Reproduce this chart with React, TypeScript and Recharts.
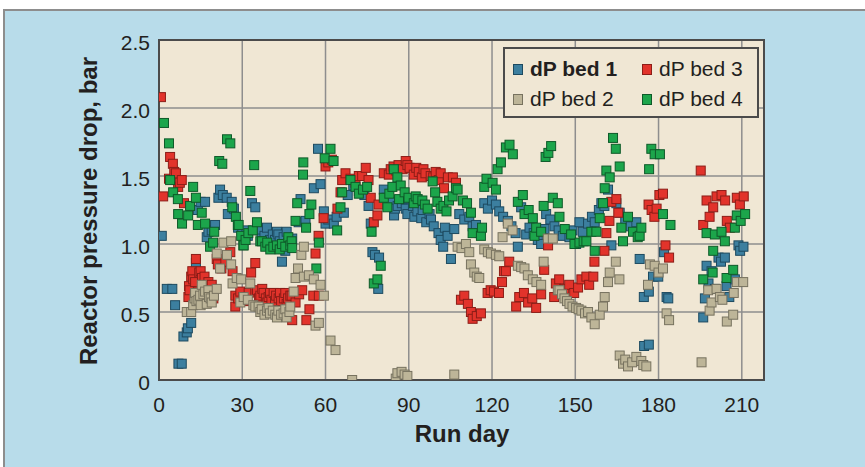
import {
  CartesianGrid,
  ReferenceArea,
  Scatter,
  ScatterChart,
  XAxis,
  YAxis,
} from "recharts";

// [run day, pressure drop in bar]
const bed1: [number, number][] = [
  [1, 1.06], [2.8, 0.67], [4.8, 0.67], [5.8, 0.55], [7, 0.12], [8.2, 0.12], [8.8, 0.32], [10, 0.35],
  [10.4, 0.38], [11.6, 0.42], [13.3, 0.86], [14, 1.25], [15, 1.31], [16.6, 1.31], [17.2, 1.05], [17.8, 1.09],
  [19, 1.1], [20.2, 1.14], [21.4, 1.34], [22, 1.4], [23, 1.36], [24.4, 1.34], [24.8, 1.22], [26.2, 1.31],
  [27, 1.26], [28.5, 1.12], [30, 1.08], [31.5, 1.1], [32, 1.06], [33.5, 1.3], [34.7, 1.27], [35.3, 1.12],
  [36.5, 1.1], [37, 1.04], [38, 1.06], [38.9, 1.12], [39.5, 1.0], [40, 1.03], [41, 1.07], [41.8, 1.03],
  [42.5, 1.09], [43, 1.07], [43.5, 1.02], [44.3, 0.87], [44.9, 1.05], [45.5, 0.95], [46, 1.09], [46.5, 1.01],
  [47.5, 0.99], [48, 1.04], [50.3, 1.16], [51, 1.33], [52.8, 1.17], [55.8, 1.41], [57.3, 1.7], [58.2, 1.44],
  [59.4, 1.24], [60, 1.15], [61, 1.18], [63, 1.15], [64, 1.2], [66.6, 1.23], [68, 1.36], [70, 1.43],
  [72, 1.39], [74, 1.36], [75.5, 1.28], [76.3, 1.15], [76.9, 0.94], [77.8, 0.92], [79.3, 0.9], [79, 0.67],
  [81, 1.4], [82, 1.34], [83.5, 1.31], [84.7, 1.21], [85, 1.26], [86, 1.28], [87.5, 1.3], [88.9, 1.26],
  [89.5, 1.22], [90, 1.33], [91.5, 1.28], [92, 1.2], [93.1, 1.24], [94.5, 1.19], [95, 1.25], [96.3, 1.16],
  [97.5, 1.22], [98, 1.18], [99, 1.13], [100.7, 1.08], [101.5, 1.03], [102.4, 0.98], [103, 1.12], [104, 1.06],
  [105.2, 0.89], [106.4, 1.11], [108.2, 1.22], [110, 1.18], [111.8, 1.2], [113, 1.13], [114.2, 1.14], [115.5, 1.08],
  [117.2, 1.3], [118.5, 1.26], [120, 1.32], [121.4, 1.29], [122.6, 1.24], [124, 1.2], [125.7, 1.17], [127, 1.13],
  [128.5, 1.08], [129.3, 0.98], [130.5, 1.27], [132.3, 1.07], [133.5, 1.12], [135, 1.08], [136.5, 1.03], [137.7, 1.0],
  [138.9, 1.11], [139.5, 1.22], [141, 1.18], [142.5, 1.13], [144, 1.1], [145.5, 1.06], [147.9, 1.05], [149, 1.1],
  [150.3, 1.0], [151.5, 1.16], [152.7, 1.09], [154.6, 1.15], [156, 1.2], [157, 1.16], [158.5, 1.25], [159.4, 1.3],
  [160.5, 1.28], [161.8, 1.4], [163, 0.99], [164.8, 1.3], [166, 1.23], [168, 1.18], [170, 1.13], [172, 1.16],
  [173.2, 0.89], [174.7, 0.61], [174.8, 0.25], [176.5, 0.26], [176.5, 0.65], [178, 0.76], [179.9, 0.76], [182, 0.94],
  [182.9, 0.61], [183.5, 0.6], [196.1, 0.46], [196.7, 0.6], [197.3, 0.84], [198, 0.71], [199.1, 0.8], [200.3, 0.67],
  [201.6, 0.9], [202.5, 0.87], [203.9, 0.9], [204.5, 0.69], [205.5, 0.61], [207.5, 0.74], [208.8, 0.99], [209.4, 0.95],
  [210.6, 0.98],
];

const bed2: [number, number][] = [
  [10, 0.5], [11.6, 0.5], [12.3, 0.55], [12.8, 0.6], [13, 0.64], [13.5, 0.58], [14.2, 0.59], [14.8, 0.62],
  [15, 0.55], [15.4, 0.7], [16, 0.63], [16.6, 0.65], [17.2, 0.56], [17.8, 0.66], [18, 0.61], [18.6, 0.6],
  [19, 0.57], [19.8, 0.62], [20.8, 0.67], [20.8, 0.93], [22, 0.82], [23.2, 1.01], [24.5, 0.92], [26, 1.02],
  [26, 0.85], [26.5, 0.71], [28, 0.75], [29.3, 0.57], [29.6, 0.74], [30.5, 0.61], [32, 0.59], [32.9, 0.71],
  [34, 0.55], [34.7, 0.54], [35.9, 0.54], [36.5, 0.5], [37, 0.52], [38, 0.48], [38.9, 0.51], [39.5, 0.53],
  [40, 0.49], [41, 0.51], [41.9, 0.48], [42.5, 0.46], [43, 0.51], [44, 0.48], [44.9, 0.49], [45.5, 0.52],
  [46, 0.46], [47, 0.5], [47.3, 0.54], [48.5, 0.65], [49.2, 0.75], [50.1, 0.82], [51.3, 0.92], [52.2, 0.98],
  [52.2, 0.76], [54, 0.77], [55.8, 0.74], [56.4, 0.4], [57.6, 0.42], [58.2, 0.7], [59.4, 0.62], [61.8, 0.29],
  [63.6, 0.22], [69.6, 0], [85.3, 0.01], [85.9, 0.05], [87.4, 0.06], [88.5, 0.04], [89.5, 0.03], [106.4, 0.04],
  [107.6, 0.98], [109, 0.97], [110.6, 1.0], [111.8, 0.94], [112.4, 0.85], [113.6, 0.79], [114.5, 0.76], [115.4, 0.75],
  [117.2, 0.96], [118.5, 0.94], [119.6, 0.93], [121.4, 0.92], [122.6, 0.91], [123.8, 1.05], [125.7, 1.15], [127.4, 1.1],
  [129.3, 0.84], [130.5, 0.83], [131.7, 0.82], [132.9, 0.77], [134.7, 0.74], [136, 0.72], [137.7, 0.7], [138.6, 0.87],
  [140.1, 1.04], [141.9, 1.04], [143.7, 0.66], [144.3, 0.66], [145.2, 0.63], [146.1, 0.6], [147, 0.58], [147.9, 0.56],
  [149, 0.54], [150.3, 0.53], [151.2, 0.52], [152.2, 0.51], [153.5, 0.49], [154.6, 0.5], [155.8, 0.46], [157, 0.41],
  [158.8, 0.48], [160, 0.54], [160.6, 0.61], [161.8, 0.72], [162.4, 0.79], [164.6, 0.87], [165.9, 0.74], [166, 0.18],
  [167.2, 0.12], [168, 0.15], [169, 0.1], [170.5, 0.13], [172, 0.17], [173.8, 0.14], [174.5, 0.11], [175.6, 0.1],
  [176.2, 0.7], [176.9, 0.85], [178.6, 0.84], [180, 0.79], [181.6, 0.82], [182.9, 0.49], [183.8, 0.44], [195.5, 0.13],
  [197.9, 0.66], [198.4, 0.51], [199.1, 0.57], [200.9, 0.67], [202.1, 0.61], [203, 0.59], [204.6, 0.43], [206.9, 0.48],
  [207.1, 0.64], [208.2, 0.72], [210.5, 0.72],
];

const bed3: [number, number][] = [
  [0.7, 2.08], [1.5, 1.35], [3.6, 1.48], [4, 1.64], [5, 1.59], [5.5, 1.53], [6.1, 1.52], [6.9, 1.42],
  [7.5, 1.45], [8.2, 1.47], [9, 1.3], [10.6, 0.61], [10.8, 0.69], [11, 0.66], [11.6, 0.76], [12, 0.8],
  [12.3, 0.74], [13, 0.72], [13.3, 0.89], [14, 0.65], [14.5, 0.79], [15, 0.8], [15.5, 0.75], [16, 0.7],
  [16.4, 0.76], [17.2, 0.69], [17.8, 0.72], [18, 0.66], [18.5, 0.64], [19, 0.7], [19.6, 0.6], [20.8, 0.89],
  [21.2, 0.85], [22.5, 0.82], [23.9, 0.87], [25.7, 0.94], [26.5, 0.8], [27.5, 0.62], [27.5, 0.54], [28.5, 0.6],
  [29.3, 0.65], [30.4, 0.61], [31.5, 0.58], [32.3, 0.64], [33.2, 0.79], [34.7, 0.86], [34.7, 0.65], [35.3, 0.66],
  [36, 0.6], [36.5, 0.62], [37.2, 0.67], [37.7, 0.64], [38.5, 0.6], [39, 0.57], [39.5, 0.61], [40, 0.64],
  [40.5, 0.59], [41.3, 0.64], [41.8, 0.58], [42.2, 0.62], [43.1, 0.6], [43.6, 0.64], [44, 0.58], [45, 0.6],
  [45.5, 0.64], [46, 0.56], [46.5, 0.6], [47.3, 0.62], [47.8, 0.62], [48, 0.44], [49.2, 0.57], [50.5, 0.63],
  [51.6, 0.66], [53.1, 0.44], [54.2, 0.52], [55.6, 0.62], [56.4, 0.93], [57.5, 1.06], [57.6, 0.62], [59.3, 1.19],
  [60, 1.57], [61, 1.6], [62.3, 1.62], [64.3, 1.26], [65.4, 1.38], [66, 1.47], [67.2, 1.52], [69, 1.48],
  [70.8, 1.45], [72, 1.5], [73.2, 1.5], [74.5, 1.56], [75.5, 1.47], [76.3, 1.34], [77.4, 1.16], [78.7, 1.21],
  [79.1, 1.29], [81, 1.52], [82.8, 1.51], [83.5, 1.55], [84.5, 1.57], [85.5, 1.54], [86.3, 1.58], [87.8, 1.55],
  [88.9, 1.61], [89.5, 1.58], [90.3, 1.56], [91.8, 1.51], [92.7, 1.56], [93.6, 1.53], [94.7, 1.49], [95.3, 1.55],
  [96, 1.52], [97.9, 1.5], [98.8, 1.49], [99.7, 1.53], [100.8, 1.47], [101.5, 1.52], [102.7, 1.41], [104.1, 1.49],
  [105.9, 1.49], [107, 1.45], [108.8, 0.59], [110, 0.62], [111.3, 0.56], [112.4, 0.5], [113, 0.45], [114.5, 0.47],
  [116, 0.49], [118.4, 0.64], [119.5, 0.66], [120.7, 0.65], [122.5, 0.64], [123.6, 0.72], [124.3, 0.8], [125, 0.8],
  [126.2, 0.87], [128.7, 0.54], [129.8, 0.61], [131.5, 0.64], [133, 0.57], [134.5, 0.6], [135.9, 0.53], [137.7, 0.63],
  [138.8, 0.81], [140.2, 0.99], [142.4, 0.61], [143, 0.71], [144.2, 0.74], [146, 0.67], [147.8, 0.7], [149.6, 0.64],
  [151, 0.68], [152.2, 0.74], [154, 0.76], [155, 0.7], [156.5, 0.76], [156.9, 0.87], [160.5, 0.95], [161.2, 1.08],
  [162.3, 1.17], [163, 1.31], [164.8, 1.33], [165.5, 1.23], [176.4, 1.29], [177.5, 1.25], [178.5, 1.2], [179.3, 1.26],
  [180.3, 1.36], [181.6, 1.37], [182.5, 0.99], [183.8, 0.9], [195.2, 1.54], [196.1, 1.14], [197.3, 1.32], [198.4, 1.2],
  [199.7, 1.27], [200.9, 1.35], [202.7, 1.36], [204, 1.32], [204.6, 1.17], [205.7, 1.12], [208.2, 1.34], [209.3, 1.29],
  [210.7, 1.35],
];

const bed4: [number, number][] = [
  [1.8, 1.89], [3.6, 1.74], [4, 1.47], [5.1, 1.38], [6.8, 1.33], [6.9, 1.22], [8.3, 1.15], [10.5, 1.21],
  [11.2, 1.28], [12.3, 1.42], [13.3, 1.34], [14, 1.14], [15.4, 1.23], [16.6, 1.15], [18.4, 0.98], [19.5, 1.01],
  [19.9, 1.09], [21.7, 1.61], [22.8, 1.59], [24.5, 1.77], [25.7, 1.74], [26.4, 1.27], [27.7, 1.2], [28.4, 1.14],
  [28.7, 1.14], [29.6, 1.06], [30.4, 0.99], [30.5, 0.99], [31.2, 1.03], [32.2, 1.08], [32.9, 1.39], [33.8, 1.1],
  [34.3, 1.58], [35.3, 1.16], [36.5, 1.02], [37.1, 1.02], [38.3, 0.98], [39, 1.01], [40.1, 0.96], [41.2, 0.98],
  [42.5, 0.99], [43.5, 0.96], [44.3, 1.0], [45.5, 0.98], [46.6, 1.05], [47.3, 0.99], [47.8, 1.02], [48, 0.97],
  [49.2, 1.17], [49.8, 1.3], [51.9, 1.51], [52, 1.6], [53, 1.12], [54.2, 1.22], [54.9, 1.29], [56.7, 0.82],
  [57.6, 1.01], [59.7, 1.63], [61.8, 1.7], [62.9, 1.61], [64.2, 1.1], [65.4, 1.27], [66, 1.38], [69, 1.47],
  [70.8, 1.42], [72, 1.37], [73.5, 1.4], [75, 1.42], [76.6, 1.09], [77.4, 0.71], [78.7, 0.74], [79.9, 0.84],
  [81, 1.34], [82.3, 1.27], [83, 1.37], [84.1, 1.42], [84.6, 1.55], [85.9, 1.49], [86.5, 1.33], [87.1, 1.43],
  [88.5, 1.38], [89.9, 1.34], [91.8, 1.3], [92.5, 1.35], [93.2, 1.33], [94.9, 1.32], [95.8, 1.29], [96.8, 1.26],
  [98.6, 1.46], [99.5, 1.38], [100.3, 1.31], [101.5, 1.26], [102.5, 1.28], [103.6, 1.24], [104.5, 1.32], [105.8, 1.35],
  [107, 1.41], [107.6, 1.4], [109.5, 1.32], [111, 1.3], [112.4, 1.23], [113, 1.08], [116, 1.06], [116.4, 1.12],
  [117.2, 1.42], [118, 1.48], [120.2, 1.45], [121.4, 1.4], [122, 1.55], [123.2, 1.6], [125, 1.71], [126.3, 1.73],
  [127.5, 1.66], [129.3, 1.31], [131.1, 1.36], [131.7, 1.22], [133.2, 1.25], [134.7, 1.19], [135.3, 1.06], [135.9, 1.12],
  [137.7, 1.09], [138.6, 1.28], [139.3, 1.64], [140.3, 1.67], [141.3, 1.72], [141.9, 1.34], [143.7, 1.3], [144.3, 1.2],
  [146.2, 1.11], [148.5, 1.07], [149.7, 1.0], [151.5, 1.01], [153, 1.02], [154, 1.02], [155.8, 1.09], [157, 0.95],
  [157.6, 1.09], [158.8, 1.19], [160, 1.3], [160.6, 1.41], [161.2, 1.54], [162.4, 1.49], [163.6, 1.78], [164.6, 1.7],
  [166, 1.57], [166.6, 1.12], [167.2, 1.02], [169, 1.2], [170.8, 1.09], [172.5, 1.05], [173.2, 1.06], [173.8, 1.12],
  [176.6, 1.55], [177.4, 1.7], [178.6, 1.66], [180.5, 1.66], [181.6, 1.22], [184.3, 1.14], [196.1, 0.74], [197.3, 1.08],
  [199.5, 0.79], [199.7, 0.95], [200.3, 1.07], [202.7, 1.09], [203.9, 1.02], [204.5, 0.75], [206.9, 0.81], [207.5, 1.12],
  [208.2, 1.21], [209.6, 1.17], [211.2, 1.22],
];

const dayTicks = [0, 30, 60, 90, 120, 150, 180, 210];
const dpTicks = [0, 0.5, 1.0, 1.5, 2.0, 2.5];

const FONT = '"Liberation Sans", Arial, Helvetica, sans-serif';
const INK = "#231f20";

const toPoints = (rows: [number, number][]) => rows.map(([day, dp]) => ({ day, dp }));

const square = (fill: string, stroke: string) => (props: any) => (
  <rect
    x={props.cx - 4.5}
    y={props.cy - 4.5}
    width={9}
    height={9}
    fill={fill}
    stroke={stroke}
    strokeWidth={1}
  />
);

const XTick = ({ x, y, payload }: any) => (
  <text x={x} y={y} dy="0.71em" textAnchor="middle" fontSize={21} fontFamily={FONT} fill={INK}>
    {payload.value}
  </text>
);

const YTick = ({ x, y, payload }: any) => (
  <text x={x} y={y + 3} dy="0.355em" textAnchor="end" fontSize={21} fontFamily={FONT} fill={INK}>
    {payload.value === 0 ? "0" : payload.value.toFixed(1)}
  </text>
);

// drawing order: bed 2 ends up on top, as in the original
const series = [
  { name: "dP bed 1", data: bed1, fill: "#3c7f9f", stroke: "#1d4a60", bold: true },
  { name: "dP bed 3", data: bed3, fill: "#e2332b", stroke: "#8c1d17", bold: false },
  { name: "dP bed 4", data: bed4, fill: "#1ca54b", stroke: "#0e5a29", bold: false },
  { name: "dP bed 2", data: bed2, fill: "#bdb598", stroke: "#77725f", bold: false },
];

const legendRows = [
  [series[0], series[1]],
  [series[3], series[2]],
];

export default function App() {
  return (
    <div
      style={{
        position: "fixed",
        left: 0,
        top: 0,
        width: 865,
        height: 467,
        background: "#fff",
        overflow: "hidden",
        fontFamily: FONT,
      }}
    >
      <div
        style={{
          position: "absolute",
          left: 3,
          top: 9,
          right: 0,
          bottom: 0,
          background: "#b8dcea",
          borderLeft: "2px solid #8d8d8d",
          borderTop: "2px solid #8d8d8d",
        }}
      />
      <div style={{ position: "absolute", left: 0, top: 0 }}>
        <ScatterChart
          width={865}
          height={467}
          margin={{ top: 40, right: 101, bottom: 0, left: 0 }}
        >
          <CartesianGrid stroke="#8e8e8e" strokeWidth={1.5} fill="#f0e7d4" fillOpacity={1} />
          <XAxis
            type="number"
            dataKey="day"
            domain={[0, 218]}
            ticks={dayTicks}
            height={87}
            tickSize={0}
            tickMargin={17}
            tickLine={false}
            axisLine={false}
            tick={<XTick />}
            allowDataOverflow
          />
          <YAxis
            type="number"
            dataKey="dp"
            domain={[0, 2.5]}
            ticks={dpTicks}
            width={159}
            tickSize={0}
            tickMargin={9}
            tickLine={false}
            axisLine={false}
            tick={<YTick />}
            allowDataOverflow
          />
          <ReferenceArea
            x1={0}
            x2={218}
            y1={0}
            y2={2.5}
            fill="none"
            stroke="#4b4b4b"
            strokeWidth={2}
            fillOpacity={0}
          />
          {series.map((s) => (
            <Scatter
              key={s.name}
              name={s.name}
              data={toPoints(s.data)}
              shape={square(s.fill, s.stroke)}
              isAnimationActive={false}
            />
          ))}
        </ScatterChart>
      </div>

      {/* axis titles */}
      <div
        style={{
          position: "absolute",
          left: 89 - 200,
          top: 211 - 12,
          width: 400,
          height: 24,
          lineHeight: "24px",
          fontSize: 24,
          fontWeight: 700,
          color: INK,
          textAlign: "center",
          transform: "rotate(-90deg)",
          whiteSpace: "nowrap",
        }}
      >
        Reactor pressure drop, bar
      </div>
      <div
        style={{
          position: "absolute",
          left: 462 - 100,
          top: 434 - 12,
          width: 200,
          height: 24,
          lineHeight: "24px",
          fontSize: 24,
          fontWeight: 700,
          color: INK,
          textAlign: "center",
          whiteSpace: "nowrap",
        }}
      >
        Run day
      </div>

      {/* legend */}
      <div
        style={{
          position: "absolute",
          left: 503,
          top: 47,
          width: 252,
          height: 67,
          background: "#f0e7d4",
          border: "2px solid #4b4b4b",
        }}
      >
        {legendRows.map((row, ri) =>
          row.map((s, ci) => (
            <div
              key={s.name}
              style={{
                position: "absolute",
                left: ci === 0 ? 8 : 137,
                top: ri === 0 ? 9 : 39,
                display: "flex",
                alignItems: "center",
                gap: 7,
                height: 21,
              }}
            >
              <div
                style={{
                  width: 8,
                  height: 9,
                  background: s.fill,
                  border: `1px solid ${s.stroke}`,
                  marginTop: 2,
                }}
              />
              <span
                style={{
                  fontSize: 21,
                  lineHeight: "21px",
                  color: INK,
                  fontWeight: s.bold ? 700 : 400,
                  whiteSpace: "nowrap",
                }}
              >
                {s.name}
              </span>
            </div>
          ))
        )}
      </div>
    </div>
  );
}
